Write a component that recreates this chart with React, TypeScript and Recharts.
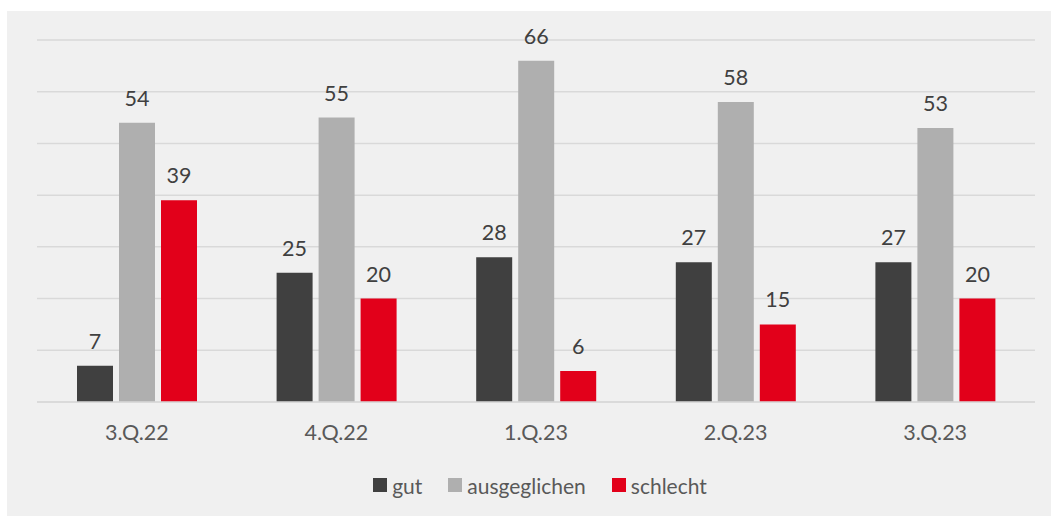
import React from 'react';
import { BarChart, Bar, XAxis, YAxis, CartesianGrid, LabelList, Legend } from 'recharts';

const categories = ['3.Q.22', '4.Q.22', '1.Q.23', '2.Q.23', '3.Q.23'];
const gut = [7, 25, 28, 27, 27];
const ausgeglichen = [54, 55, 66, 58, 53];
const schlecht = [39, 20, 6, 15, 20];
const yTicks = [0, 10, 20, 30, 40, 50, 60, 70];

const seriesNames = ['gut', 'ausgeglichen', 'schlecht'];
const seriesColors = ['#404040', '#afafaf', '#e2001a'];

const data = categories.map((c, i) => ({
  name: c,
  gut: gut[i],
  ausgeglichen: ausgeglichen[i],
  schlecht: schlecht[i],
}));

const FONT = 'Lato, "Open Sans", sans-serif';

const renderLegend = () => (
  <div
    style={{
      display: 'flex',
      justifyContent: 'center',
      alignItems: 'center',
      fontFamily: FONT,
      fontSize: 21,
      color: '#595959',
      paddingLeft: 22,
      height: 36,
    }}
  >
    {seriesNames.map((n, i) => (
      <div key={n} style={{ display: 'flex', alignItems: 'center', marginRight: i < 2 ? 26 : 0 }}>
        <span style={{ display: 'inline-block', width: 14, height: 14, background: seriesColors[i], marginRight: 5 }} />
        <span>{n}</span>
      </div>
    ))}
  </div>
);

export default function App() {
  return (
    <div style={{ position: 'fixed', left: 0, top: 0, width: 1051, height: 516, background: '#ffffff' }}>
      <div style={{ position: 'absolute', left: 7, top: 11, width: 1044, height: 505, background: '#f0f0f0' }}>
        <BarChart
          width={1044}
          height={505}
          data={data}
          margin={{ top: 29, right: 16, left: 30, bottom: 74 }}
          barSize={36}
          barGap={6}
        >
          <CartesianGrid vertical={false} stroke="#d9d9d9" strokeWidth={1.5} />
          <YAxis hide domain={[0, 70]} ticks={yTicks} />
          <XAxis
            dataKey="name"
            height={40}
            axisLine={{ stroke: '#d9d9d9', strokeWidth: 1.5 }}
            tickLine={false}
            tickSize={0}
            tickMargin={23}
            tick={{ fill: '#595959', fontSize: 21.5, fontFamily: FONT }}
          />
          <Legend
            verticalAlign="middle"
            align="center"
            content={renderLegend}
            wrapperStyle={{ top: 456, left: 0, width: 1044 }}
          />
          {seriesNames.map((n, i) => (
            <Bar key={n} dataKey={n} fill={seriesColors[i]} isAnimationActive={false}>
              <LabelList dataKey={n} position="top" offset={17} fill="#404040" fontSize={21.5} fontFamily={FONT} />
            </Bar>
          ))}
        </BarChart>
      </div>
    </div>
  );
}
